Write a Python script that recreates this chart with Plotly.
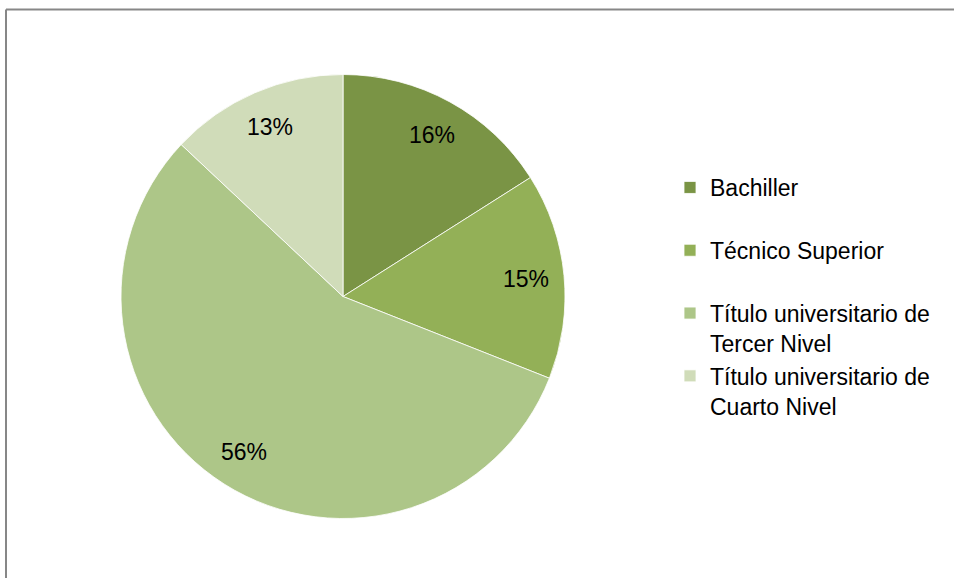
import math
import plotly.graph_objects as go

categories = ["Bachiller", "Técnico Superior",
              "Título universitario de<br>Tercer Nivel",
              "Título universitario de<br>Cuarto Nivel"]
values = [16, 15, 56, 13]
colors = ["#7A9445", "#93B057", "#ADC688", "#D0DCB9"]

# blank second line gives single-line legend entries the same height as two-line ones
legend_labels = [c if "<br>" in c else c + "<br> " for c in categories]

W, H = 954, 578
cx, cy, R = 343, 296.5, 222
FONT = "Liberation Sans, Arial"
FS = 23

fig = go.Figure(go.Pie(
    labels=legend_labels,
    values=values,
    sort=False,
    direction="clockwise",
    rotation=0,
    marker=dict(colors=colors, line=dict(color="white", width=0.8)),
    textinfo="none",
    domain=dict(x=[(cx - R) / W, (cx + R) / W], y=[(H - cy - R) / H, (H - cy + R) / H]),
    hoverinfo="label+percent",
))

# percentage labels placed along each slice's bisector (derived from the values)
total = sum(values)
annotations = []
cum = 0
for v in values:
    mid = (cum + v / 2) / total * 2 * math.pi
    cum += v
    px = cx + 0.83 * R * math.sin(mid)
    py = cy - 0.83 * R * math.cos(mid)
    annotations.append(dict(
        x=px / W, y=1 - py / H, xref="paper", yref="paper",
        text=f"{round(v / total * 100)}%", showarrow=False,
        font=dict(family=FONT, size=FS, color="black"),
        xanchor="center", yanchor="middle",
    ))

fig.update_layout(
    width=W, height=H,
    margin=dict(l=0, r=0, t=0, b=0),
    paper_bgcolor="white",
    plot_bgcolor="white",
    font=dict(family=FONT, size=FS, color="black"),
    annotations=annotations,
    legend=dict(
        x=670 / W, y=1 - 166 / H, xanchor="left", yanchor="top",
        valign="top",
        font=dict(family=FONT, size=FS, color="black"),
        bgcolor="rgba(0,0,0,0)",
        traceorder="normal",
    ),
    shapes=[
        dict(type="line", xref="paper", yref="paper",
             x0=6 / W, x1=1.01, y0=1 - 9.5 / H, y1=1 - 9.5 / H,
             line=dict(color="#878787", width=2)),
        dict(type="line", xref="paper", yref="paper",
             x0=6 / W, x1=6 / W, y0=1 - 9.5 / H, y1=-0.01,
             line=dict(color="#878787", width=2)),
    ],
)

fig.write_html("out.html", config={"displayModeBar": False},
               post_script="document.body.style.margin='0';")
